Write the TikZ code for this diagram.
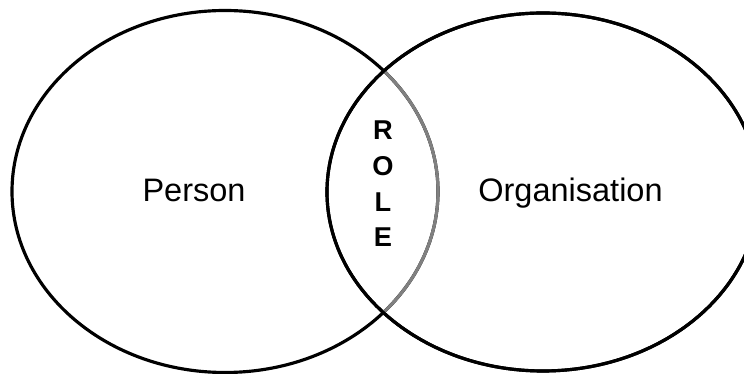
\documentclass[tikz,border=0pt]{standalone}
\usepackage{fontspec}
\setmainfont{Liberation Sans}
\usepackage{tikz}

\begin{document}
\begin{tikzpicture}[
    x=0.02cm, y=-0.02cm,
    %% ── Styles ──────────────────────────────────────────────────
    setline/.style ={draw=black, line width=1.8pt},
    overlap/.style ={draw=black!50, line width=1.8pt},
    setlabel/.style={anchor=base, font=\fontsize{18.5}{22}\selectfont},
    rolelbl/.style ={anchor=base, font=\fontsize{15.5}{18}\selectfont\bfseries}
]

    \useasboundingbox (0,0) rectangle (744,374);
    \clip (0,0) rectangle (744,374);

    %% ── Sets ────────────────────────────────────────────────────
    \draw[setline] (543,192) ellipse [x radius=216, y radius=179];
    \draw[setline] (225,191.5) ellipse [x radius=213, y radius=181];
    \begin{scope}
        \clip (543,192) ellipse [x radius=216, y radius=179];
        \draw[overlap] (225,191.5) ellipse [x radius=213, y radius=181];
    \end{scope}
    \draw[setline] (543,192) ellipse [x radius=216, y radius=179];

    %% ── Labels ──────────────────────────────────────────────────
    \node[setlabel] (person) at (194,201.5) {Person};
    \node[setlabel] (org)    at (570.5,201.5) {Organisation};

    \node[rolelbl] (roleR) at (383,140) {R};
    \node[rolelbl] (roleO) at (383,176) {O};
    \node[rolelbl] (roleL) at (383,212) {L};
    \node[rolelbl] (roleE) at (383,247) {E};

\end{tikzpicture}
\end{document}
